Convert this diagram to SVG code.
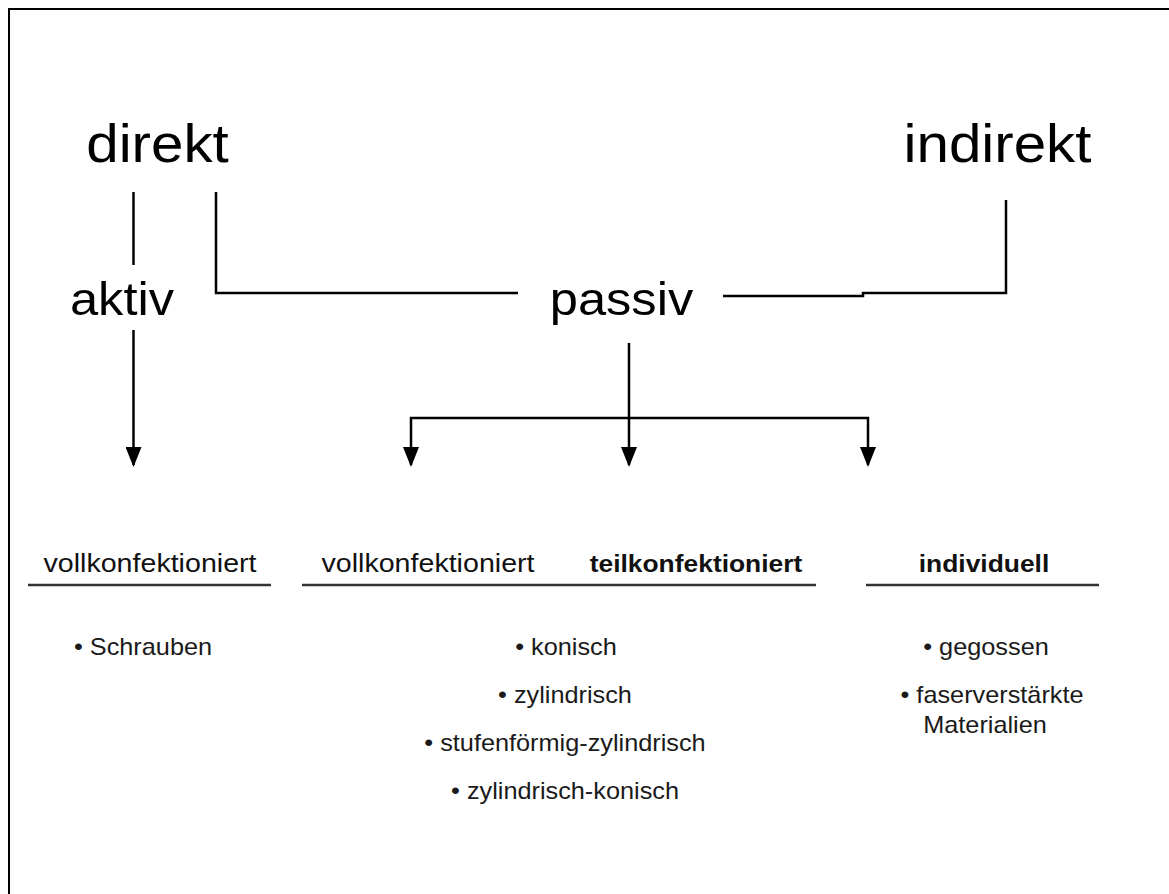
<svg xmlns="http://www.w3.org/2000/svg" width="1169" height="894" viewBox="0 0 1169 894">
<defs>
<style>
text{font-family:"Liberation Sans",Arial,sans-serif;text-anchor:middle;fill:#000}
.big{font-size:53px}
.mid{font-size:46px}
.hd{font-size:26px;fill:#111}
.hdb{font-size:24px;font-weight:bold;fill:#111}
.it{font-size:23px;fill:#1a1a1a}
.ln{fill:none;stroke:#000;stroke-width:2.5}
.ul{fill:none;stroke:#333;stroke-width:2.5}
</style>
<marker id="ah" markerUnits="userSpaceOnUse" markerWidth="20" markerHeight="16" refX="18" refY="8" orient="auto-start-reverse" viewBox="0 0 20 16">
<path d="M0 0 L20 8 L0 16 Z" fill="#000"/>
</marker>
</defs>
<rect width="1169" height="894" fill="#fff"/>
<path d="M9 894 V9 H1169" fill="none" stroke="#000" stroke-width="2"/>

<g id="direkt"><text class="big" transform="translate(157.5 162) scale(1.1 1)">direkt</text></g>
<g id="indirekt"><text class="big" transform="translate(997.5 162) scale(1.1 1)">indirekt</text></g>
<g id="aktiv"><text class="mid" transform="translate(122 315) scale(1.1 1)">aktiv</text></g>
<g id="passiv"><text class="mid" transform="translate(621.5 315) scale(1.1 1)">passiv</text></g>

<g id="connectors">
<path class="ln" d="M133.5 192 V265"/>
<path class="ln" d="M216 192 V293 H518"/>
<path class="ln" d="M723 296 H863 V293 H1006 V200"/>
<path class="ln" d="M133.5 330 V465" marker-end="url(#ah)"/>
<path class="ln" d="M629 343 V465" marker-end="url(#ah)"/>
<path class="ln" d="M411 465 V418 H868 V465" marker-start="url(#ah)" marker-end="url(#ah)"/>
</g>

<g id="col-aktiv-voll">
<text class="hd" transform="translate(150 572) scale(1.1 1)">vollkonfektioniert</text>
<path class="ul" d="M28 585 H271"/>
<text class="it" transform="translate(143 655) scale(1.1 1)">• Schrauben</text>
</g>
<g id="col-passiv-konf">
<text class="hd" transform="translate(428 572) scale(1.1 1)">vollkonfektioniert</text>
<text class="hdb" transform="translate(696 572) scale(1.1 1)">teilkonfektioniert</text>
<path class="ul" d="M302 585 H816"/>
<text class="it" transform="translate(566 655) scale(1.1 1)">• konisch</text>
<text class="it" transform="translate(565 703) scale(1.1 1)">• zylindrisch</text>
<text class="it" transform="translate(565 751) scale(1.1 1)">• stufenförmig-zylindrisch</text>
<text class="it" transform="translate(565 799) scale(1.1 1)">• zylindrisch-konisch</text>
</g>
<g id="col-individuell">
<text class="hdb" transform="translate(984 572) scale(1.1 1)">individuell</text>
<path class="ul" d="M866 585 H1099"/>
<text class="it" transform="translate(986 655) scale(1.1 1)">• gegossen</text>
<text class="it" transform="translate(992 703) scale(1.1 1)">• faserverstärkte</text>
<text class="it" transform="translate(985 733) scale(1.1 1)">Materialien</text>
</g>
</svg>
